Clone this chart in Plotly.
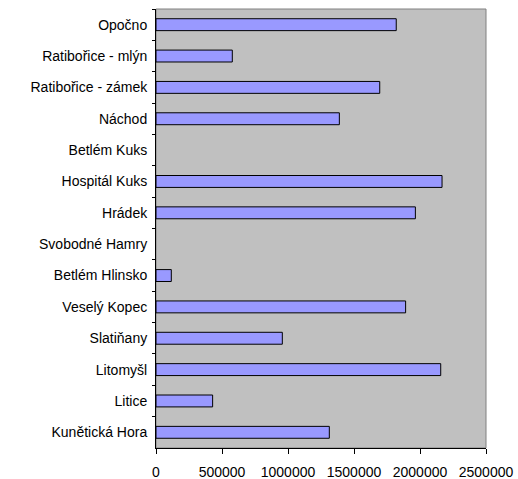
import plotly.graph_objects as go

# Sites listed top to bottom as they appear on the category axis
sites = [
    "Opočno",
    "Ratibořice - mlýn",
    "Ratibořice - zámek",
    "Náchod",
    "Betlém Kuks",
    "Hospitál Kuks",
    "Hrádek",
    "Svobodné Hamry",
    "Betlém Hlinsko",
    "Veselý Kopec",
    "Slatiňany",
    "Litomyšl",
    "Litice",
    "Kunětická Hora",
]
values = [
    1820000,
    578000,
    1695000,
    1389000,
    None,
    2167000,
    1965000,
    None,
    116000,
    1891000,
    957000,
    2157000,
    429000,
    1313000,
]
x_ticks = [0, 500000, 1000000, 1500000, 2000000, 2500000]

font = dict(family="Liberation Sans, Arial, sans-serif", size=14, color="black")

fig = go.Figure(
    go.Bar(
        y=sites,
        x=values,
        orientation="h",
        marker=dict(color="#9999FF", line=dict(color="black", width=1)),
        hoverinfo="x+y",
    )
)

fig.update_layout(
    width=518,
    height=479,
    margin=dict(l=156, r=32, t=9, b=31, pad=0),
    paper_bgcolor="white",
    plot_bgcolor="#C0C0C0",
    font=font,
    bargap=0.62,
    showlegend=False,
    shapes=[
        dict(
            type="rect", xref="paper", yref="paper", x0=0, x1=1, y0=0, y1=1,
            line=dict(color="#808080", width=1), layer="below",
        )
    ],
)

fig.update_xaxes(
    range=[0, 2500000],
    tickvals=x_ticks,
    ticktext=[str(v) for v in x_ticks],
    ticks="outside",
    ticklen=5,
    tickcolor="black",
    showline=True,
    linecolor="black",
    linewidth=1,
    showgrid=False,
    zeroline=False,
    automargin=False,
    ticklabelstandoff=6,
    fixedrange=True,
)
fig.update_yaxes(
    categoryorder="array",
    categoryarray=sites,
    autorange="reversed",
    tickson="boundaries",
    ticks="outside",
    ticklen=3,
    tickcolor="black",
    showline=True,
    linecolor="black",
    linewidth=1,
    showgrid=False,
    automargin=False,
    ticklabelstandoff=5,
    fixedrange=True,
)

fig.write_html("out.html")
